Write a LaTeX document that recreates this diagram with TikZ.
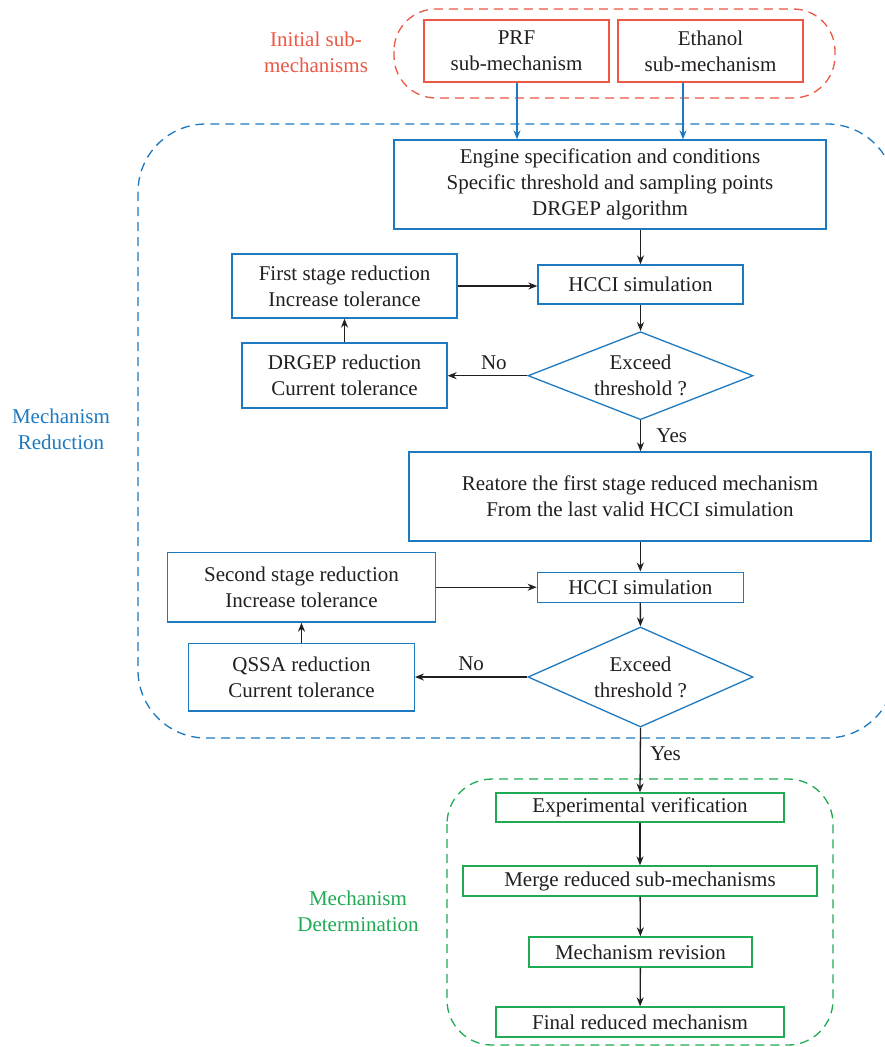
\documentclass[tikz,border=0pt]{standalone}
\usepackage{fontspec}
\setmainfont{Liberation Serif}
\usetikzlibrary{shapes.geometric,arrows.meta}
\definecolor{cred}{RGB}{236,88,68}
\definecolor{cblue}{RGB}{30,122,192}
\definecolor{cgreen}{RGB}{32,170,84}
\definecolor{ctext}{RGB}{35,31,32}
\tikzset{
  rbox/.style={draw=cred, line width=1.3pt, inner sep=0pt, align=center},
  bbox/.style={draw=cblue, line width=1.3pt, inner sep=0pt, align=center},
  gbox/.style={draw=cgreen, line width=1.3pt, inner sep=0pt, align=center},
  dia/.style={draw=cblue, line width=1.3pt, diamond, inner sep=0pt, minimum width=225pt},
  group/.style={dashed, dash pattern=on 9pt off 6pt, line width=1.3pt},
  arr/.style={draw=ctext, line width=1.3pt, -{Stealth[length=9pt,width=7pt]}},
  barr/.style={draw=cblue, line width=1.3pt, -{Stealth[length=9pt,width=7pt]}},
  lbl/.style={align=center, inner sep=0pt},
}
\begin{document}
\begin{tikzpicture}[x=1pt,y=-1pt, font=\fontsize{21}{26}\selectfont, text=ctext]
\useasboundingbox (0,0) rectangle (884,1047);
\fill[white] (0,0) rectangle (884,1047);

% group frames
\draw[group, draw=cred, rounded corners=42pt] (394,9) rectangle (835,98);
\draw[group, draw=cblue, rounded corners=68pt] (138,124) rectangle (895,738);
\draw[group, draw=cgreen, rounded corners=45pt] (447,779) rectangle (833,1045);

% group labels
\node[lbl, text=cred] (lred) at (316,52) {Initial sub-\\mechanisms};
\node[lbl, text=cblue] (lblue) at (61,429) {Mechanism\\Reduction};
\node[lbl, text=cgreen] (lgreen) at (358,911) {Mechanism\\Determination};

% top boxes
\node[rbox, minimum width=185pt, minimum height=62pt] (prf) at (516.5,51) {PRF\\sub-mechanism};
\node[rbox, minimum width=185pt, minimum height=62pt] (eth) at (710.5,51) {Ethanol\\sub-mechanism};

% reduction boxes
\node[bbox, minimum width=432pt, minimum height=89pt] (eng) at (610,184.5) {Engine specification and conditions\\Specific threshold and sampling points\\DRGEP algorithm};
\node[bbox, minimum width=205pt, minimum height=39pt] (h1) at (640.5,284.5) {HCCI simulation};
\node[dia, minimum height=88pt] (d1) at (640.5,375.7) {};
\node[lbl] (d1t) at (640.5,375.7) {Exceed\\threshold ?};
\node[bbox, minimum width=205pt, minimum height=65pt] (dr) at (344.5,375.5) {DRGEP reduction\\Current tolerance};
\node[bbox, minimum width=225pt, minimum height=64pt] (fs) at (344.5,286) {First stage reduction\\Increase tolerance};
\node[bbox, minimum width=462pt, minimum height=89pt] (rs) at (640,496.5) {Reatore the first stage reduced mechanism\\From the last valid HCCI simulation};
\node[bbox, minimum width=206pt, minimum height=30pt] (h2) at (640.3,587.2) {HCCI simulation};
\node[dia, minimum height=100pt] (d2) at (640.5,677) {};
\node[lbl] (d2t) at (640.5,677) {Exceed\\threshold ?};
\node[bbox, minimum width=225.6pt, minimum height=67.7pt] (qs) at (301.5,677.2) {QSSA reduction\\Current tolerance};
\node[bbox, minimum width=267.6pt, minimum height=69.7pt] (ss) at (301.5,587.2) {Second stage reduction\\Increase tolerance};

% determination boxes
\node[gbox, minimum width=288pt, minimum height=29pt] (ev) at (640,807.5) {Experimental verification};
\node[gbox, minimum width=354pt, minimum height=30pt] (mg) at (640,881) {Merge reduced sub-mechanisms};
\node[gbox, minimum width=223pt, minimum height=30pt] (mr) at (640.5,952) {Mechanism revision};
\node[gbox, minimum width=288pt, minimum height=30pt] (fr) at (640,1022) {Final reduced mechanism};

% connectors
\coordinate (pa) at (517,0);
\coordinate (pb) at (683,0);
\draw[barr] (prf.south -| pa) -- (eng.north -| pa);
\draw[barr] (eth.south -| pb) -- (eng.north -| pb);
\draw[arr] (eng.south -| h1) -- (h1.north);
\draw[arr] (h1) -- (d1);
\draw[arr] (d1.west) -- node[above=2pt, pos=0.42] (no1) {No} (dr.east |- d1.west);
\draw[arr] (dr.north) -- (fs.south);
\draw[arr] (fs.east) -- (h1.west |- fs.east);
\draw[arr] (d1.south) -- node[right=12pt, pos=0.5] (yes1) {Yes} (rs.north -| d1.south);
\draw[arr] (rs.south -| h2) -- (h2.north);
\draw[arr] (h2) -- (d2);
\draw[arr] (d2.west) -- node[above=2pt, pos=0.5] (no2) {No} (qs.east |- d2.west);
\draw[arr] (qs.north) -- (ss.south);
\draw[arr] (ss.east) -- (h2.west |- ss.east);
\draw[arr] (d2.south) -- node[right=6pt, pos=0.4] (yes2) {Yes} (ev.north);
\draw[arr] (ev) -- (mg);
\draw[arr] (mg) -- (mr);
\draw[arr] (mr) -- (fr);
\end{tikzpicture}
\end{document}
